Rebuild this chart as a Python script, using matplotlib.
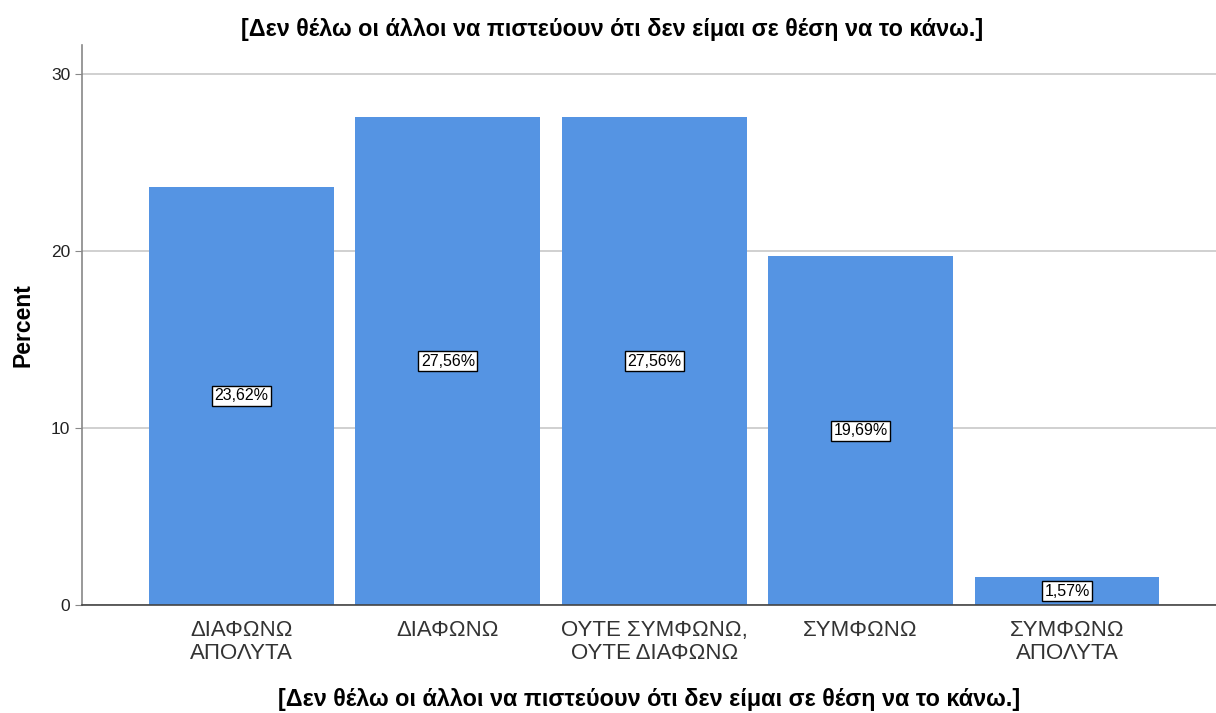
import matplotlib
matplotlib.use('Agg')
import matplotlib.pyplot as plt

plt.rcParams['font.family'] = ['Liberation Sans', 'DejaVu Sans']

title = '[Δεν θέλω οι άλλοι να πιστεύουν ότι δεν είμαι σε θέση να το κάνω.]'
categories = ['ΔΙΑΦΩΝΩ\nΑΠΟΛΥΤΑ', 'ΔΙΑΦΩΝΩ', 'ΟΥΤΕ ΣΥΜΦΩΝΩ,\nΟΥΤΕ ΔΙΑΦΩΝΩ',
              'ΣΥΜΦΩΝΩ', 'ΣΥΜΦΩΝΩ\nΑΠΟΛΥΤΑ']
percent = [23.62, 27.56, 27.56, 19.69, 1.57]
yticks = [0, 10, 20, 30]

fig = plt.figure(figsize=(12.16, 7.13), dpi=100)
ax = fig.add_axes([0.0674, 0.1515, 0.9326, 0.7854])

x = list(range(len(categories)))
ax.set_axisbelow(True)
ax.yaxis.grid(True, color='#c8c8c8', lw=1.2)
ax.bar(x, percent, width=0.896, color='#5594e3', zorder=2)

for xi, v in zip(x, percent):
    lbl = f'{v:.2f}%'.replace('.', ',')
    ax.text(xi, v / 2, lbl, ha='center', va='center', fontsize=11.5, zorder=3,
            bbox=dict(boxstyle='square,pad=0.15', fc='white', ec='black', lw=1))

ax.set_xlim(-0.773, 4.722)
ax.set_ylim(0, 31.64)
ax.set_yticks(yticks)
ax.set_xticks(x)
ax.set_xticklabels(categories, fontsize=16, color='#333333', linespacing=1.12)
ax.tick_params(axis='x', length=0, pad=11)
ax.tick_params(axis='y', length=5, labelsize=12.5, color='#888888', labelcolor='#222222')

for s in ['top', 'right']:
    ax.spines[s].set_visible(False)
ax.spines['left'].set_color('#888888')
ax.spines['left'].set_linewidth(1.2)
ax.spines['bottom'].set_color('#444444')
ax.spines['bottom'].set_linewidth(1.2)

ax.set_ylabel('Percent', fontsize=16.5, fontweight='bold', labelpad=12)
ax.set_xlabel(title, fontsize=16.8, fontweight='bold', labelpad=17)
fig.text(0.503, 0.959, title, ha='center', va='center', fontsize=16.8, fontweight='bold')

fig.savefig('out.png', dpi=100)
